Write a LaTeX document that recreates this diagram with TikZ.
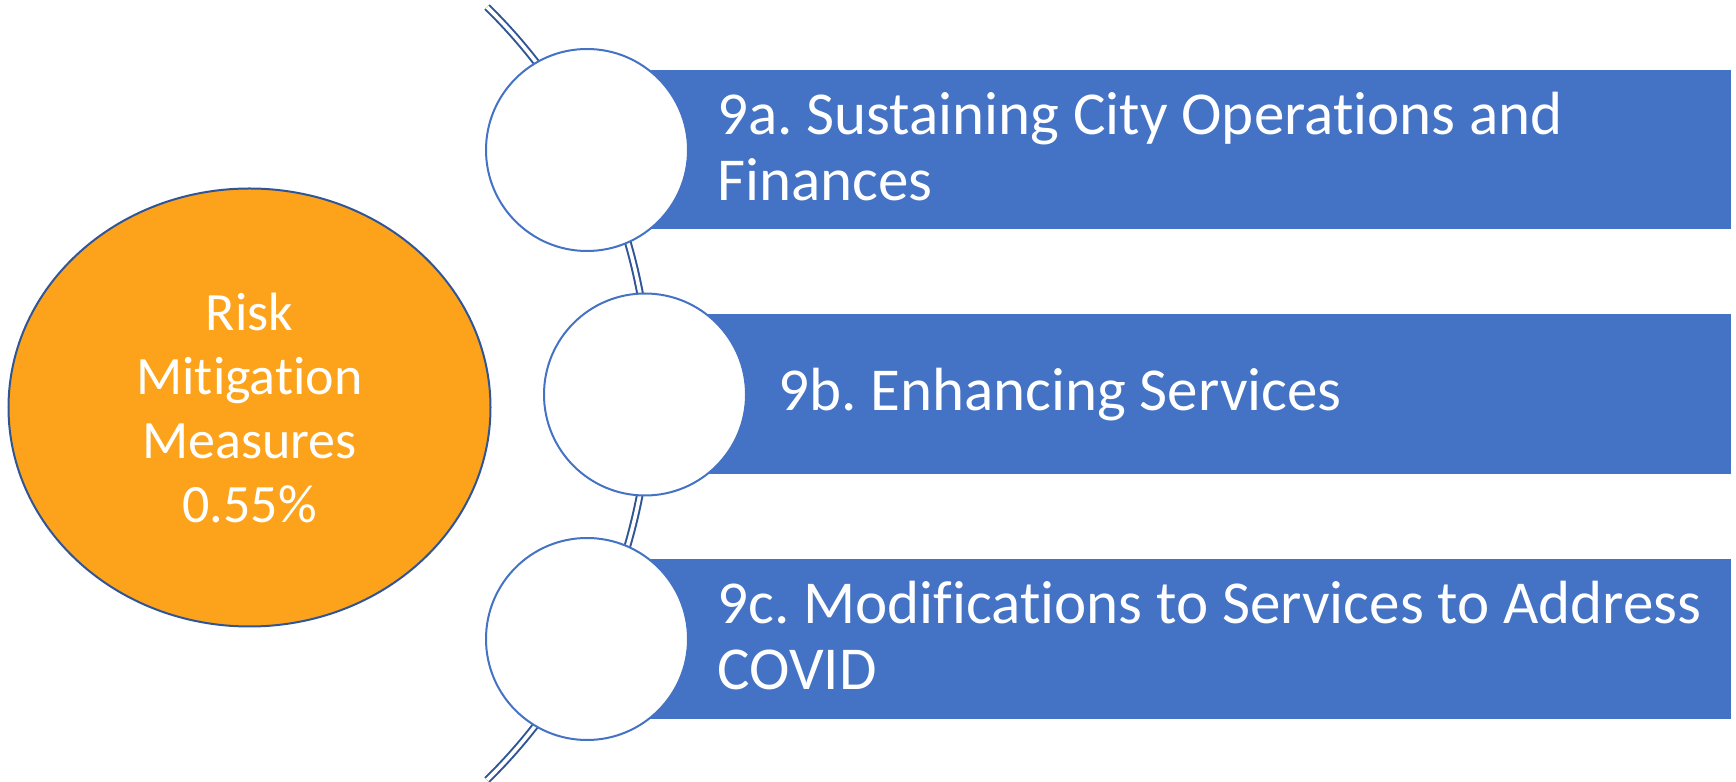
\documentclass[tikz,border=0pt]{standalone}
\usepackage{fontspec}
\setmainfont[Ligatures=NoCommon]{Carlito}
\usetikzlibrary{shapes.geometric}
\definecolor{rectblue}{HTML}{4472C4}
\definecolor{darkblue}{HTML}{2F5597}
\definecolor{orangefill}{HTML}{FDA31B}
\tikzset{
  arcline/.style={draw=darkblue, line width=1pt, double=white, double distance=1.8pt},
  bar/.style={fill=rectblue, draw=none},
  disc/.style={circle, draw=rectblue, line width=1pt, fill=white, minimum size=101pt, inner sep=0pt},
  mainell/.style={ellipse, draw=darkblue, line width=1pt, fill=orangefill, minimum width=241pt, minimum height=219pt, inner sep=0pt, text=white, align=center, font=\fontsize{27pt}{32pt}\selectfont},
  bartext/.style={anchor=west, text=white, align=left, inner sep=0pt, font=\fontsize{30.5pt}{33pt}\selectfont}
}
\begin{document}
\frenchspacing
\begin{tikzpicture}[x=0.5pt,y=0.5pt]
\useasboundingbox (0,0) rectangle (1736,782);
% decorative arc
\draw[arcline] (108.2,388.5) ++(45.57:270.6pt) arc[start angle=45.57, end angle=-45.57, radius=270.6pt];
% bars
\fill[bar] (587,553) rectangle (1731,712);
\fill[bar] (645,308) rectangle (1731,468);
\fill[bar] (587,63) rectangle (1731,223);
% circles
\node[disc] (c1) at (587,632) {};
\node[disc] (c2) at (645,387.5) {};
\node[disc] (c3) at (587,143) {};
% main ellipse
\node[mainell] (main) at (249.5,374.5) {Risk\\Mitigation\\Measures\\0.55\%};
% bar texts
\node[bartext] (t1) at (717,635) {9a. Sustaining City Operations and\\Finances};
\node[bartext] (t2) at (778,387.5) {9b. Enhancing Services};
\node[bartext] (t3) at (717,146) {9c. Modifications to Services to Address\\COVID};
\end{tikzpicture}
\end{document}
